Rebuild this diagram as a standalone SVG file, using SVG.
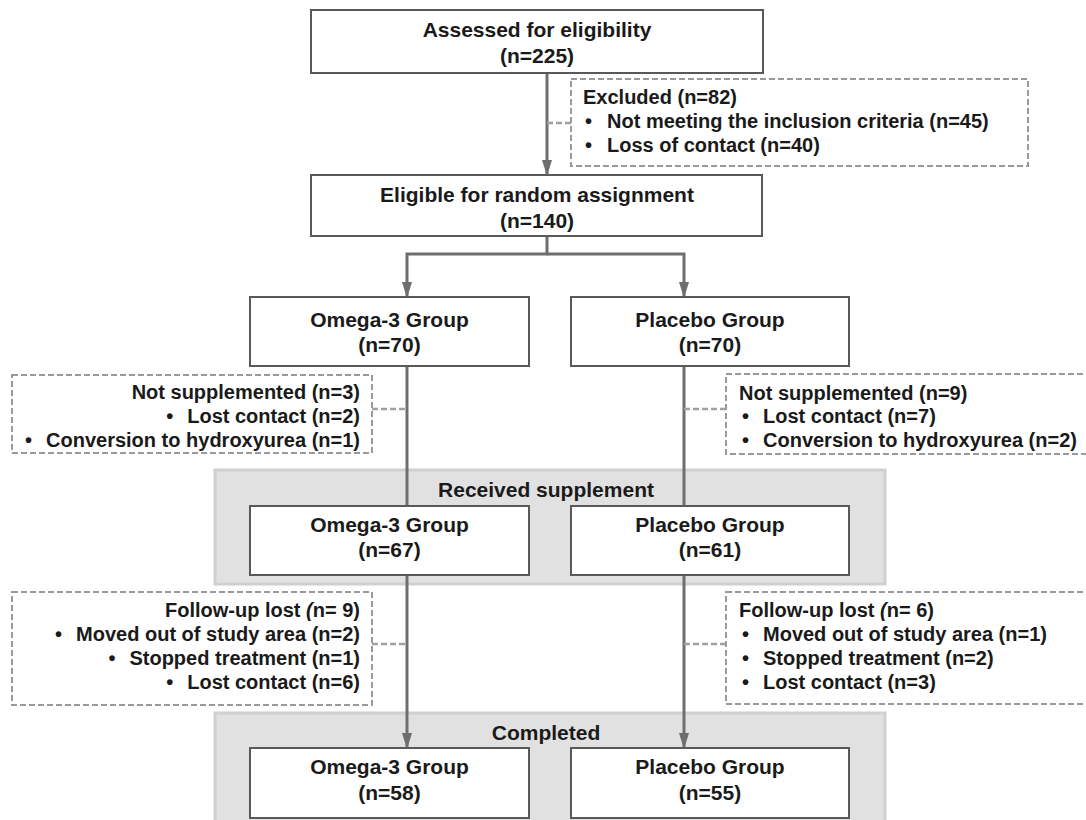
<svg xmlns="http://www.w3.org/2000/svg" width="1086" height="820" viewBox="0 0 1086 820">
<style>
.box{fill:#fff;stroke:#595959;stroke-width:2}
.band{fill:#e1e1e1;stroke:#d0d0d0;stroke-width:3}
.dash{fill:#fff;stroke:#9a9a9a;stroke-width:2;stroke-dasharray:6 3}
.t{font-family:"Liberation Sans",Arial,sans-serif;font-weight:bold;font-size:21px;fill:#1a1a1a;text-anchor:middle}
.s{font-family:"Liberation Sans",Arial,sans-serif;font-weight:bold;font-size:20px;fill:#1a1a1a}
.e{text-anchor:end}
.line{fill:none;stroke:#6e6e6e;stroke-width:3}
.dl{fill:none;stroke:#a0a0a0;stroke-width:2.5;stroke-dasharray:6 3}
</style>
<defs>
<marker id="ah" viewBox="0 0 16 10" markerWidth="16" markerHeight="10" refX="15" refY="5" orient="auto" markerUnits="userSpaceOnUse">
<path d="M0,0 L16,5 L0,10 z" fill="#6e6e6e" transform="rotate(0)"/>
</marker>
</defs>

<g id="band-received"><rect class="band" x="215" y="470" width="670" height="114"/><text class="t" x="546" y="497">Received supplement</text></g>
<g id="band-completed"><rect class="band" x="215" y="713" width="670" height="120"/><text class="t" x="546" y="740">Completed</text></g>

<g id="connectors">
<line class="line" x1="547" y1="73" x2="547" y2="175" marker-end="url(#ah)"/>
<line class="dl" x1="547" y1="123" x2="571" y2="123"/>
<polyline class="line" points="547,236 547,254 407,254 407,297" marker-end="url(#ah)"/>
<polyline class="line" points="547,254 684,254 684,297" marker-end="url(#ah)"/>
<line class="line" x1="407" y1="366" x2="407" y2="506"/>
<line class="line" x1="684" y1="366" x2="684" y2="506"/>
<line class="line" x1="407" y1="575" x2="407" y2="748" marker-end="url(#ah)"/>
<line class="line" x1="684" y1="575" x2="684" y2="748" marker-end="url(#ah)"/>
<line class="dl" x1="372" y1="409" x2="407" y2="409"/>
<line class="dl" x1="684" y1="409" x2="726" y2="409"/>
<line class="dl" x1="372" y1="644" x2="407" y2="644"/>
<line class="dl" x1="684" y1="644" x2="726" y2="644"/>
</g>

<g id="assessed"><rect class="box" x="311" y="10" width="452" height="63"/><text class="t" x="537" y="37">Assessed for eligibility</text><text class="t" x="537" y="63">(n=225)</text></g>
<g id="excluded"><rect class="dash" x="571" y="79" width="457" height="87"/>
<text class="s" x="583" y="104">Excluded (n=82)</text>
<text class="s" x="585" y="128">•<tspan x="607">Not meeting the inclusion criteria (n=45)</tspan></text>
<text class="s" x="585" y="152">•<tspan x="607">Loss of contact (n=40)</tspan></text></g>
<g id="eligible"><rect class="box" x="311" y="175" width="451" height="61"/><text class="t" x="537" y="202">Eligible for random assignment</text><text class="t" x="537" y="228">(n=140)</text></g>

<g id="omega70"><rect class="box" x="250" y="297" width="279" height="69"/><text class="t" x="389.5" y="327">Omega-3 Group</text><text class="t" x="389.5" y="352">(n=70)</text></g>
<g id="placebo70"><rect class="box" x="571" y="297" width="278" height="69"/><text class="t" x="710" y="327">Placebo Group</text><text class="t" x="710" y="352">(n=70)</text></g>

<g id="notsupp-omega"><rect class="dash" x="12" y="375" width="360" height="78"/>
<text class="s e" x="360" y="399">Not supplemented (n=3)</text>
<text class="s e" x="360" y="423">•<tspan dx="14">Lost contact (n=2)</tspan></text>
<text class="s e" x="360" y="447">•<tspan dx="14">Conversion to hydroxyurea (n=1)</tspan></text></g>
<g id="notsupp-placebo"><rect class="dash" x="726" y="374" width="370" height="80"/>
<text class="s" x="739" y="400">Not supplemented (n=9)</text>
<text class="s" x="742" y="423">•<tspan x="763">Lost contact (n=7)</tspan></text>
<text class="s" x="742" y="447">•<tspan x="763">Conversion to hydroxyurea (n=2)</tspan></text></g>

<g id="omega67"><rect class="box" x="250" y="506" width="279" height="69"/><text class="t" x="389.5" y="532">Omega-3 Group</text><text class="t" x="389.5" y="557">(n=67)</text></g>
<g id="placebo61"><rect class="box" x="571" y="506" width="278" height="69"/><text class="t" x="710" y="532">Placebo Group</text><text class="t" x="710" y="557">(n=61)</text></g>

<g id="followup-omega"><rect class="dash" x="12" y="592" width="360" height="113"/>
<text class="s e" x="360" y="617">Follow-up lost <tspan font-style="italic">(</tspan>n= 9)</text>
<text class="s e" x="360" y="641">•<tspan dx="14">Moved out of study area (n=2)</tspan></text>
<text class="s e" x="360" y="665">•<tspan dx="14">Stopped treatment (n=1)</tspan></text>
<text class="s e" x="360" y="689">•<tspan dx="14">Lost contact (n=6)</tspan></text></g>
<g id="followup-placebo"><rect class="dash" x="726" y="592" width="370" height="112"/>
<text class="s" x="739" y="617">Follow-up lost <tspan font-style="italic">(</tspan>n= 6)</text>
<text class="s" x="742" y="641">•<tspan x="763">Moved out of study area (n=1)</tspan></text>
<text class="s" x="742" y="665">•<tspan x="763">Stopped treatment (n=2)</tspan></text>
<text class="s" x="742" y="689">•<tspan x="763">Lost contact (n=3)</tspan></text></g>

<g id="omega58"><rect class="box" x="250" y="748" width="279" height="70"/><text class="t" x="389.5" y="774">Omega-3 Group</text><text class="t" x="389.5" y="800">(n=58)</text></g>
<g id="placebo55"><rect class="box" x="571" y="748" width="278" height="70"/><text class="t" x="710" y="774">Placebo Group</text><text class="t" x="710" y="800">(n=55)</text></g>
</svg>
